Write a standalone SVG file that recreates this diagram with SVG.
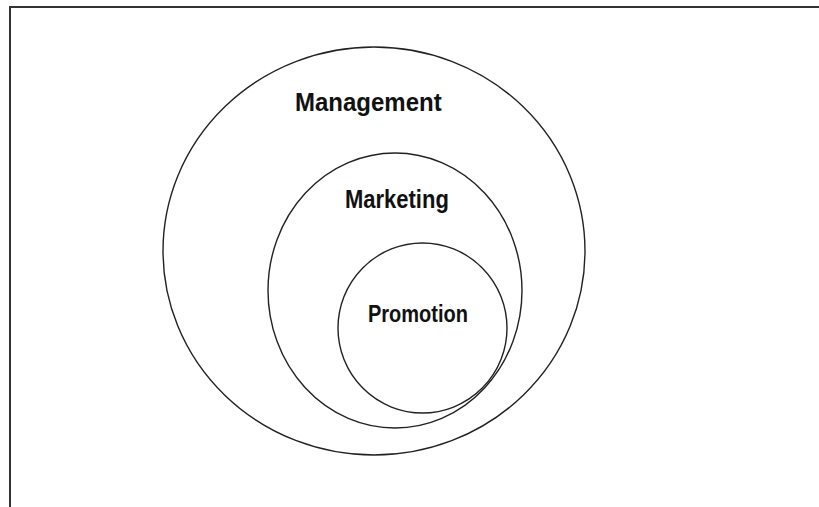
<svg xmlns="http://www.w3.org/2000/svg" width="819" height="507" viewBox="0 0 819 507">
<style>
.c{fill:none;stroke:#222;stroke-width:1.4}
.t{font-family:"Liberation Sans",Arial,sans-serif;font-weight:bold;fill:#111}
</style>
<rect x="0" y="0" width="819" height="507" fill="#fff"/>
<path d="M10,507 V7 H819" fill="none" stroke="#333" stroke-width="2"/>
<g id="management">
<ellipse class="c" cx="374" cy="251" rx="211" ry="204"/>
<text class="t" x="295" y="111" font-size="24" transform="translate(0,111) scale(1,1.1) translate(0,-111)">Management</text>
</g>
<g id="marketing">
<ellipse class="c" cx="395" cy="290.5" rx="127" ry="137.5"/>
<text class="t" x="345" y="208" font-size="22" transform="translate(0,208) scale(1,1.15) translate(0,-208)">Marketing</text>
</g>
<g id="promotion">
<ellipse class="c" cx="422.5" cy="328" rx="84.5" ry="85"/>
<text class="t" x="368" y="322" font-size="20" transform="translate(0,322) scale(1,1.15) translate(0,-322)">Promotion</text>
</g>
<g id="connectors"></g>
</svg>
